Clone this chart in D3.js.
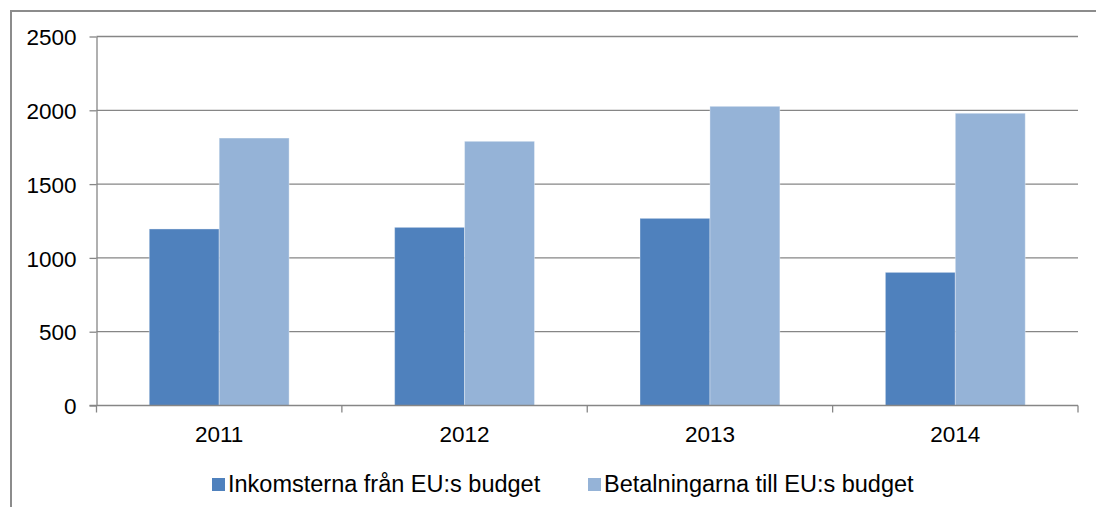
<!DOCTYPE html>
<meta charset="utf-8">
<style>
body { margin: 0; background: #fff; }
text { font-family: "Liberation Sans", Arial, sans-serif; fill: #000; }
.grid line { stroke: #868686; stroke-width: 1.3px; }
</style>
<svg width="1096" height="507"></svg>
<script src="https://cdn.jsdelivr.net/npm/d3@7"></script>
<script>

var years = ["2011", "2012", "2013", "2014"];
var inkomster = [1196, 1207, 1268, 902];
var betalningar = [1812, 1790, 2027, 1980];
var seriesNames = ["Inkomsterna från EU:s budget", "Betalningarna till EU:s budget"];
var seriesColors = ["#4f81bd", "#95b3d7"];
var yTicks = [0, 500, 1000, 1500, 2000, 2500];

var svg = d3.select("svg");

// outer frame (right/bottom run off the picture)
svg.append("rect")
    .attr("x", 11).attr("y", 11)
    .attr("width", 1200).attr("height", 600)
    .attr("fill", "none")
    .attr("stroke", "#8c8c8c")
    .attr("stroke-width", 2);

var plotLeft = 96.5, plotRight = 1078, plotTop = 36.5, plotBottom = 405.5;

var x = d3.scaleBand().domain(years).range([plotLeft, plotRight]).paddingInner(0.43).paddingOuter(0.215);
var xSub = d3.scaleBand().domain([0, 1]).range([0, x.bandwidth()]);
var y = d3.scaleLinear().domain([0, 2500]).range([plotBottom, plotTop]);

// gridlines
svg.append("g")
    .attr("class", "grid")
    .selectAll("line")
    .data(yTicks.filter(function(d) { return d > 0; }))
    .enter().append("line")
    .attr("x1", plotLeft).attr("x2", plotRight)
    .attr("y1", function(d) { return y(d); })
    .attr("y2", function(d) { return y(d); });

// bars
var rows = years.map(function(yr, i) { return { year: yr, values: [inkomster[i], betalningar[i]] }; });

svg.append("g")
    .selectAll("g")
    .data(rows)
    .enter().append("g")
    .attr("transform", function(d) { return "translate(" + x(d.year) + ",0)"; })
    .selectAll("rect")
    .data(function(d) { return d.values; })
    .enter().append("rect")
    .attr("x", function(d, i) { return xSub(i); })
    .attr("width", xSub.bandwidth())
    .attr("y", function(d) { return y(d); })
    .attr("height", function(d) { return plotBottom - y(d); })
    .attr("fill", function(d, i) { return seriesColors[i]; })
    .attr("stroke", "rgba(255,255,255,0.35)")
    .attr("stroke-width", 1);

// y axis
var yAxis = svg.append("g")
    .attr("transform", "translate(" + plotLeft + ",0)")
    .call(d3.axisLeft(y).tickValues(yTicks).tickFormat(d3.format("d"))
        .tickSize(7).tickPadding(13).tickSizeOuter(0));
yAxis.select(".domain").attr("stroke", "#868686").attr("stroke-width", 1.3);
yAxis.selectAll(".tick line").attr("stroke", "#868686").attr("stroke-width", 1.3);
yAxis.selectAll("text").style("font-size", "22.5px").attr("fill", "#000").attr("dy", "0.36em");

// x axis: ticks sit between categories
var xAxis = svg.append("g")
    .attr("transform", "translate(0," + plotBottom + ")");
xAxis.append("line")
    .attr("x1", plotLeft - 7).attr("x2", plotRight)
    .attr("stroke", "#868686").attr("stroke-width", 1.3);
var step = x.step();
xAxis.selectAll(".sep")
    .data(d3.range(years.length + 1))
    .enter().append("line")
    .attr("x1", function(i) { return plotLeft + i * step; })
    .attr("x2", function(i) { return plotLeft + i * step; })
    .attr("y1", 0).attr("y2", 7)
    .attr("stroke", "#868686").attr("stroke-width", 1.3);
xAxis.selectAll(".lbl")
    .data(years)
    .enter().append("text")
    .attr("x", function(d) { return x(d) + x.bandwidth() / 2; })
    .attr("y", 36.5)
    .attr("text-anchor", "middle")
    .style("font-size", "22.5px")
    .text(function(d) { return d; });

// legend
var legendX = [212, 588];
var legend = svg.append("g")
    .selectAll("g")
    .data(seriesNames)
    .enter().append("g")
    .attr("transform", function(d, i) { return "translate(" + legendX[i] + ",478)"; });
legend.append("rect")
    .attr("width", 13).attr("height", 13)
    .attr("fill", function(d, i) { return seriesColors[i]; });
legend.append("text")
    .attr("x", 16).attr("y", 14)
    .style("font-size", "23.5px")
    .text(function(d) { return d; });

</script>
